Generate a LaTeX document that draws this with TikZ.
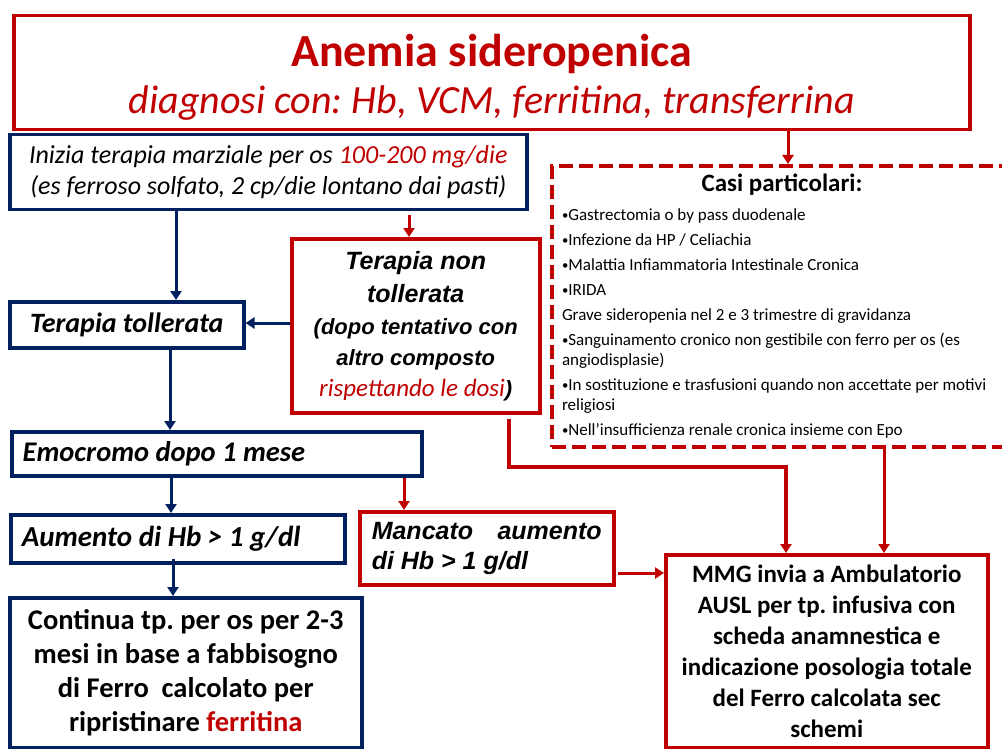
\documentclass[tikz,border=0pt]{standalone}
\usepackage{fontspec}
\setmainfont{Carlito}
\newfontfamily\arialf{Liberation Sans}
\usetikzlibrary{arrows.meta,calc}
\definecolor{rd}{HTML}{C00000}
\definecolor{bl}{HTML}{002060}
\frenchspacing
\newcommand\bul{\raisebox{0.12ex}{\scalebox{0.75}{•}}}
\begin{document}
\begin{tikzpicture}[x=1pt,y=-1pt,
  bx/.style={draw, line width=3.5pt, inner xsep=6pt, inner ysep=0pt, anchor=north west, fill=white},
  rb/.style={bx, draw=rd},
  bb/.style={bx, draw=bl},
  db/.style={bx, draw=rd, dash pattern=on 14pt off 6pt, line width=4pt},
  ra/.style={draw=rd, line width=3pt, -{Triangle[width=11pt,length=9pt]}},
  ba/.style={draw=bl, line width=3pt, -{Triangle[width=11pt,length=9pt]}},
]
\clip (0,0) rectangle (1002,749);
\fill[white] (0,0) rectangle (1002,749);

% boxes
\node[rb, minimum width=956pt, minimum height=114pt, align=center, text=rd] (title) at (12,14)
  {{\rule{0pt}{42pt}\fontsize{46}{50}\selectfont\bfseries Anemia sideropenica}\\[11pt]
   {\fontsize{40}{46}\selectfont\itshape diagnosi con: Hb, VCM, ferritina, transferrina}};

\node[bb, minimum width=517pt, minimum height=75pt, align=center,
      font=\fontsize{26}{31}\selectfont\itshape] (inizia) at (8,133)
  {Inizia terapia marziale per os \textcolor{rd}{100-200 mg/die}\\(es ferroso solfato, 2 cp/die lontano dai pasti)};

\node[rb, minimum width=248pt, minimum height=174pt, align=center,
      font=\arialf\bfseries\itshape\fontsize{22}{31}\selectfont] (tnon) at (290,237)
  {{\fontsize{25}{31}\selectfont Terapia non}\\[2pt]{\fontsize{25}{31}\selectfont tollerata}\\[1pt]
   (dopo tentativo con\\altro composto\\
   \textcolor{rd}{\normalfont\itshape\fontsize{25}{31}\selectfont rispettando le dosi})};

\node[bb, minimum width=234pt, minimum height=46pt, align=center,
      font=\fontsize{28}{30}\selectfont\bfseries\itshape] (ttoll) at (8,300) {Terapia tollerata};

\node[bb, minimum width=410pt, minimum height=44pt, text width=388pt, inner xsep=11pt, align=flush left,
      font=\fontsize{28.5}{30}\selectfont\bfseries\itshape] (emo) at (10,430) {Emocromo dopo 1 mese};

\node[bb, minimum width=334pt, minimum height=48pt, text width=312pt, inner xsep=11pt, align=flush left,
      font=\fontsize{29}{30}\selectfont\bfseries\itshape] (aum) at (9,513) {Aumento di Hb > 1 g/dl};

\node[rb, minimum width=254pt, minimum height=73pt, text width=230pt, inner xsep=12pt, align=flush left,
      font=\arialf\bfseries\itshape\fontsize{25}{30}\selectfont] (manc) at (358,510)
  {Mancato\hfill aumento\\di Hb > 1 g/dl};

\node[bb, minimum width=352pt, minimum height=150pt, align=center,
      font=\fontsize{28.5}{34}\selectfont\bfseries] (cont) at (8,596)
  {Continua tp. per os per 2-3\\mesi in base a fabbisogno\\di Ferro\ \ calcolato per\\ripristinare \textcolor{rd}{ferritina}};

\node[rb, minimum width=322pt, text width=316pt, inner xsep=3pt, inner ysep=10pt, align=flush center,
      font=\fontsize{25}{31}\selectfont\bfseries] (mmg) at (664,553)
  {MMG invia a Ambulatorio\\AUSL per tp. infusiva con\\scheda anamnestica e\\indicazione posologia totale\\del Ferro calcolata sec\\schemi};

\node[db, minimum width=460pt, minimum height=281pt, text width=440pt, inner xsep=10pt, align=flush left] (casi) at (550,164)
  {{\centering\fontsize{25}{28}\selectfont\bfseries Casi particolari:\par}
   \vspace{4pt}
   \fontsize{17}{20}\selectfont\setlength{\parskip}{5pt}%
   \bul Gastrectomia o by pass duodenale\par
   \bul Infezione da HP / Celiachia\par
   \bul Malattia Infiammatoria Intestinale Cronica\par
   \bul IRIDA\par
   Grave sideropenia nel 2 e 3 trimestre di gravidanza\par
   \bul Sanguinamento cronico non gestibile con ferro per os (es\newline angiodisplasie)\par
   \bul In sostituzione e trasfusioni quando non accettate per motivi\newline religiosi\par
   \bul Nell’insufficienza renale cronica insieme con Epo\par};

% helper coordinates
\coordinate (x1) at (788,0);
\coordinate (x2) at (176,0);
\coordinate (x3) at (409,0);
\coordinate (y4) at (0,323);
\coordinate (x5) at (170,0);
\coordinate (x6) at (171,0);
\coordinate (x7) at (404,0);
\coordinate (x8) at (173,0);
\coordinate (y9) at (0,573);
\coordinate (xb) at (509,0);
\coordinate (yb) at (0,467);
\coordinate (xc) at (786,0);
\coordinate (xd) at (884,0);

% connectors
\draw[ra] (title.south -| x1) -- (casi.north -| x1);
\draw[ba] (inizia.south -| x2) -- (ttoll.north -| x2);
\draw[ra, shorten <=3pt] (inizia.south -| x3) -- (tnon.north -| x3);
\draw[ba] (tnon.west |- y4) -- (ttoll.east |- y4);
\draw[ba] (ttoll.south -| x5) -- (emo.north -| x5);
\draw[ba] (emo.south -| x6) -- (aum.north -| x6);
\draw[ra] (emo.south -| x7) -- (manc.north -| x7);
\draw[ba] ($(aum.south -| x8)+(0,-6)$) -- (cont.north -| x8);
\draw[ra, shorten <=2pt] (manc.east |- y9) -- (mmg.west |- y9);
\draw[ra, line width=3.5pt, shorten <=4pt] (tnon.south -| xb) -- (xb |- yb) -- (xc |- yb) -- (mmg.north -| xc);
\draw[ra] (casi.south -| xd) -- (mmg.north -| xd);
\end{tikzpicture}
\end{document}
